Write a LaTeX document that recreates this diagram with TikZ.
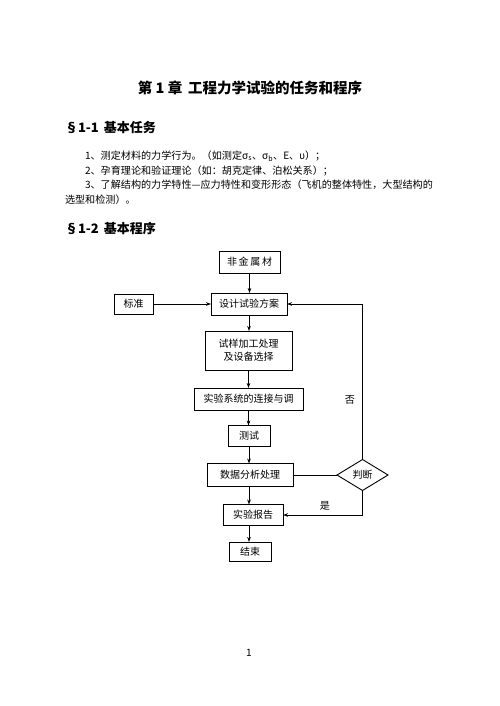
\documentclass[tikz,border=0pt]{standalone}
\usepackage{fontspec}
\setmainfont{Noto Sans CJK SC}
\usetikzlibrary{arrows.meta,shapes.geometric}
\begin{document}
\begin{tikzpicture}[x=1pt,y=-1pt,
  every node/.style={inner sep=0pt,outer sep=0pt},
  body/.style={font=\fontsize{10.1}{12}\selectfont},
  sect/.style={font=\fontsize{13}{15}\selectfont\bfseries},
  box/.style={draw,line width=0.9pt,font=\fontsize{10}{12}\selectfont,align=center},
  dia/.style={draw,diamond,line width=0.9pt,font=\fontsize{10}{12}\selectfont,aspect=1.6},
  conn/.style={line width=0.8pt},
  arr/.style={conn,-{Stealth[length=5pt,width=3.6pt]}}]
\useasboundingbox[fill=white] (0,0) rectangle (499,706);
% headings and text
\node[font=\fontsize{14.5}{17}\selectfont\bfseries] (title) at (250,88) {第 1 章\, 工程力学试验的任务和程序};
\node[sect,anchor=west] (s1) at (65,128) {§1-1\, 基本任务};
\node[body,anchor=west] (l1) at (85,156) {1、测定材料的力学行为。（如测定σ\textsubscript{s}、σ\textsubscript{b}、E、υ）；};
\node[body,anchor=west] (l2) at (85,170.5) {2、孕育理论和验证理论（如：胡克定律、泊松关系）；};
\node[body,anchor=west] (l3) at (85,185) {3、了解结构的力学特性—应力特性和变形形态（飞机的整体特性，大型结构的};
\node[body,anchor=west] (l4) at (65,200) {选型和检测）。};
\node[sect,anchor=west] (s2) at (65,229) {§1-2\, 基本程序};
% flowchart
\node[box,minimum width=61pt,minimum height=22pt] (fjs) at (249.5,262) {非\,金\,属\,材};
\node[box,minimum width=76pt,minimum height=22pt] (sj) at (249,304) {设计试验方案};
\node[box,minimum width=39pt,minimum height=20pt] (bz) at (133.5,304) {标准};
\node[box,minimum width=87pt,minimum height=39pt] (sy) at (248.5,350.5) {试样加工处理\\[1pt]及设备选择};
\node[box,minimum width=109pt,minimum height=22pt] (xt) at (248.5,399) {实验系统的连接与调};
\node[box,minimum width=42pt,minimum height=21pt] (cs) at (249,436) {测试};
\node[box,minimum width=86pt,minimum height=23pt] (fx) at (250,475) {数据分析处理};
\node[dia,minimum width=51pt,minimum height=31pt] (pd) at (362.5,475) {判断};
\node[box,minimum width=60pt,minimum height=21pt] (bg) at (253,515) {实验报告};
\node[box,minimum width=42pt,minimum height=19pt] (js) at (250,551.5) {结束};
\node[body] (no) at (350,400) {否};
\node[body] (yes) at (325,506) {是};
\node[body] (pg) at (249,653) {1};
% connectors
\draw[arr] (fjs.south) -- (fjs.south |- sj.north);
\draw[arr] (bz.east) -- (bz.east -| sj.west);
\draw[arr] (sj.south) -- (sj.south |- sy.north);
\draw[arr] (sy.south) -- (sy.south |- xt.north);
\draw[arr] (xt.south) -- (xt.south |- cs.north);
\draw[arr] (cs.south) -- (cs.south |- fx.north);
\draw[conn] (fx.east) -- (pd.west);
\draw[arr] (pd.north) |- (sj.east);
\draw[arr] (pd.south) |- (bg.east);
\draw[arr] (249,486.5) -- (249,504.5);
\draw[arr] (249,525.5) -- (249,542);
\end{tikzpicture}
\end{document}
